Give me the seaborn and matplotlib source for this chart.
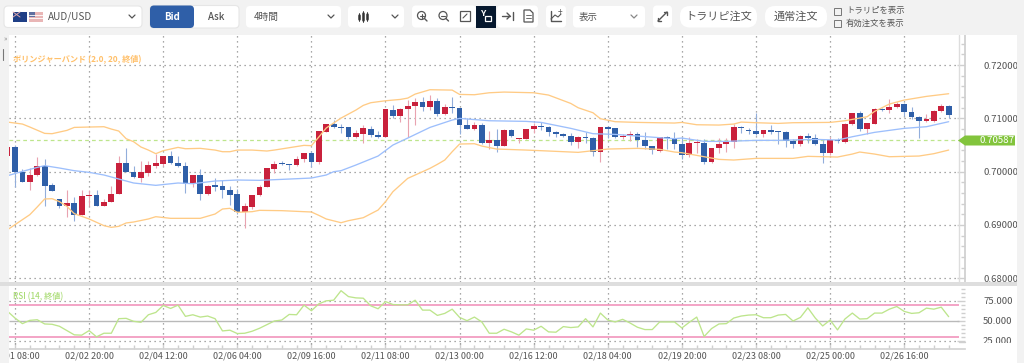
import matplotlib
matplotlib.use('Agg')
import matplotlib.pyplot as plt
import numpy as np
import pandas as pd
import seaborn as sns
from matplotlib.patches import FancyBboxPatch, Rectangle, Circle, Polygon

sns.set_theme(style='white')
plt.rcParams['font.family'] = ['Noto Sans CJK JP', 'DejaVu Sans']

# === DATA ===
# candles start one bar before the first grid line, prices are in 1/100000
candle_open = [70288,
    70462, 69994, 69806, 69931, 70100, 69744, 69494, 69350, 69419, 69188,
    69538, 69556, 69363, 69438, 69581, 70169, 69994, 69888, 69975, 70113,
    70150, 70300, 70169, 70106, 69775, 69938, 69575, 69744, 69725, 69663,
    69575, 69238, 69338, 69556, 69713, 70056, 70163, 70144, 70119, 70238,
    70344, 70175, 70750, 70900, 70844, 70838, 70644, 70713, 70806, 70681,
    70644, 71156, 71044, 71169, 71231, 71313, 71219, 71331, 71081, 71219,
    71200, 70875, 70806, 70875, 70544, 70588, 70488, 70775, 70613, 70613,
    70800, 70850, 70838, 70750, 70706, 70675, 70550, 70644, 70625, 70363,
    70844, 70813, 70644, 70688, 70706, 70594, 70475, 70394, 70650, 70625,
    70513, 70313, 70544, 70544, 70181, 70438, 70513, 70563, 70844, 70781,
    70763, 70706, 70775, 70763, 70750, 70581, 70519, 70675, 70638, 70519,
    70344, 70594, 70550, 70888, 71094, 70794, 70894, 71175, 71156, 71206,
    71275, 71125, 71019, 70944, 70956, 71131, 71231]
candle_close = [70462,
    69994, 69806, 69931, 70100, 69738, 69631, 69350, 69419, 69181, 69538,
    69569, 69363, 69438, 69588, 70163, 69994, 69894, 69988, 70125, 70156,
    70300, 70163, 70100, 69763, 69931, 69581, 69738, 69719, 69663, 69569,
    69238, 69350, 69563, 69713, 70069, 70150, 70138, 70119, 70244, 70344,
    70175, 70756, 70900, 70844, 70825, 70644, 70719, 70813, 70681, 70644,
    71169, 71044, 71181, 71231, 71313, 71219, 71331, 71081, 71213, 71188,
    70875, 70806, 70875, 70544, 70594, 70488, 70781, 70675, 70625, 70800,
    70856, 70831, 70750, 70706, 70675, 70550, 70650, 70625, 70363, 70844,
    70800, 70650, 70675, 70706, 70594, 70475, 70406, 70650, 70625, 70513,
    70313, 70531, 70550, 70181, 70438, 70513, 70563, 70844, 70825, 70763,
    70706, 70781, 70750, 70750, 70581, 70519, 70675, 70638, 70513, 70344,
    70594, 70569, 70894, 71094, 70794, 70906, 71169, 71156, 71206, 71275,
    71125, 71019, 70944, 70981, 71144, 71231, 71063]
candle_high = [70500,
    70506, 70050, 70069, 70275, 70238, 69788, 69494, 69662, 69525, 69650,
    69662, 69650, 69488, 69738, 70288, 70444, 70113, 70194, 70206, 70338,
    70300, 70381, 70300, 70188, 69944, 70050, 69756, 69881, 69850, 69738,
    69675, 69413, 69569, 69756, 70069, 70200, 70194, 70150, 70300, 70350,
    70381, 70756, 70900, 70963, 70894, 70838, 70781, 70875, 70856, 70769,
    71169, 71250, 71194, 71344, 71375, 71394, 71444, 71375, 71269, 71394,
    71200, 71000, 70938, 70906, 70763, 70794, 70794, 70794, 70625, 70800,
    70919, 70938, 70850, 70763, 70731, 70719, 70669, 70750, 70644, 70844,
    70856, 70825, 70706, 70769, 70750, 70738, 70481, 70656, 70669, 70738,
    70656, 70644, 70606, 70606, 70450, 70625, 70625, 70894, 70856, 70825,
    71094, 70781, 70875, 70763, 70769, 70606, 70688, 70719, 70706, 70594,
    70644, 70625, 70919, 71094, 71144, 70919, 71188, 71188, 71356, 71300,
    71281, 71219, 71044, 71081, 71156, 71269, 71250]
candle_low = [70288,
    69712, 69806, 69662, 69925, 69350, 69631, 69319, 69150, 69069, 69188,
    69350, 69350, 69350, 69425, 69581, 69994, 69881, 69800, 69925, 70069,
    70113, 70150, 70088, 69600, 69713, 69475, 69556, 69631, 69506, 69381,
    69213, 68944, 69306, 69538, 69706, 69975, 70119, 70025, 70113, 70175,
    70081, 70150, 70744, 70825, 70731, 70606, 70625, 70531, 70656, 70638,
    70644, 71000, 70938, 70644, 70875, 71144, 71156, 71044, 71063, 71094,
    70706, 70800, 70781, 70519, 70419, 70375, 70481, 70656, 70531, 70606,
    70719, 70781, 70669, 70644, 70656, 70500, 70450, 70531, 70294, 70188,
    70625, 70625, 70613, 70575, 70469, 70419, 70331, 70363, 70425, 70419,
    70231, 70269, 70344, 70138, 70169, 70356, 70375, 70438, 70731, 70700,
    70688, 70644, 70706, 70519, 70469, 70438, 70481, 70544, 70500, 70169,
    70319, 70544, 70544, 70875, 70769, 70706, 70888, 71144, 71106, 71188,
    71044, 70981, 70638, 70931, 70931, 71125, 71000]

upper_idx = [-1, 1, 2, 4, 5, 6, 7, 8, 10, 12, 13, 14, 15, 16, 17, 18, 19, 20, 22, 23, 25, 27, 28, 29, 30, 32,
             34, 35, 37, 39, 40, 41, 42, 43, 44, 45, 46, 47, 48, 50, 52, 53, 54, 56, 59, 60, 62, 64, 66, 70,
             72, 75, 76, 78, 79, 81, 84, 89, 90, 92, 95, 97, 98, 100, 103, 105, 110, 112, 115, 116, 118, 120, 123, 126]
upper_val = [70931, 70894, 70838, 70719, 70713, 70744, 70775, 70831, 70838, 70844, 70800, 70763, 70619, 70563,
             70463, 70406, 70338, 70394, 70456, 70431, 70438, 70406, 70375, 70375, 70406, 70406, 70388, 70406,
             70450, 70494, 70488, 70650, 70819, 70913, 71006, 71081, 71156, 71244, 71294, 71331, 71356, 71381,
             71456, 71538, 71531, 71450, 71444, 71481, 71494, 71481, 71438, 71281, 71200, 71106, 70994, 70938,
             70925, 70913, 70925, 70881, 70875, 70894, 70931, 70919, 70906, 70919, 70925, 70956, 71031, 71131,
             71269, 71344, 71413, 71463]
mid_idx = [-1, 1, 3, 4, 6, 8, 10, 12, 14, 16, 19, 22, 24, 27, 30, 33, 36, 40, 42, 43, 44, 46, 49, 51, 53, 56, 59,
           60, 64, 69, 71, 75, 78, 81, 87, 89, 90, 93, 96, 100, 103, 108, 111, 113, 116, 120, 123, 126]
mid_val = [69925, 70006, 70081, 70113, 70069, 70019, 69988, 69938, 69863, 69788, 69744, 69788, 69775, 69825,
           69844, 69838, 69856, 69881, 69938, 70000, 70019, 70125, 70294, 70500, 70631, 70831, 70969, 71000,
           70956, 70944, 70925, 70813, 70713, 70700, 70638, 70619, 70631, 70569, 70569, 70588, 70588, 70606,
           70594, 70656, 70738, 70813, 70844, 70938]
lower_idx = [-1, 1, 2, 3, 4, 5, 6, 7, 8, 10, 12, 13, 14, 15, 16, 18, 19, 21, 25, 27, 28, 29, 30, 32, 33, 36, 39,
             40, 41, 42, 44, 45, 47, 49, 50, 51, 52, 53, 55, 56, 57, 58, 59, 60, 62, 63, 65, 69, 72, 76, 78, 80,
             84, 87, 89, 90, 93, 95, 97, 100, 105, 107, 111, 113, 114, 116, 118, 122, 124, 126]
lower_val = [68913, 69100, 69194, 69338, 69488, 69494, 69438, 69350, 69213, 69113, 68988, 68956, 68975, 69038,
             69056, 69113, 69156, 69125, 69125, 69206, 69300, 69313, 69238, 69250, 69275, 69269, 69250, 69244,
             69181, 69113, 69043, 69081, 69137, 69281, 69437, 69625, 69750, 69875, 70000, 70063, 70138, 70219,
             70375, 70519, 70525, 70481, 70425, 70406, 70388, 70363, 70394, 70425, 70438, 70419, 70369, 70356,
             70281, 70231, 70219, 70250, 70250, 70288, 70275, 70331, 70369, 70331, 70281, 70294, 70338, 70406]

rsi_val = [62.0,
    53.7, 46.7, 50.8, 51.6, 46.3, 45.9, 43.4, 38.0, 32.7, 32.3,
    38.0, 30.2, 34.7, 34.7, 52.9, 53.3, 49.6, 48.4, 57.8, 60.7,
    69.4, 65.7, 69.8, 55.8, 57.8, 54.9, 56.2, 52.9, 37.6, 38.5,
    34.3, 34.7, 37.2, 40.9, 45.5, 50.0, 51.2, 58.2, 57.8, 69.8,
    62.8, 71.4, 75.2, 76.0, 87.9, 80.5, 78.9, 78.5, 69.0, 65.3,
    74.3, 70.6, 70.2, 70.2, 76.0, 63.6, 63.6, 57.0, 59.5, 64.8,
    54.5, 50.4, 54.9, 48.8, 34.7, 34.7, 39.7, 36.4, 32.3, 40.1,
    38.5, 43.4, 36.4, 36.0, 43.0, 41.8, 42.6, 52.9, 42.6, 59.9,
    51.2, 48.8, 52.1, 47.5, 42.2, 39.3, 39.3, 48.8, 48.8, 48.8,
    41.3, 48.4, 54.9, 30.6, 40.5, 46.3, 46.7, 53.7, 56.2, 57.4,
    57.8, 54.1, 54.1, 57.4, 58.2, 50.0, 54.5, 66.5, 53.7, 43.8,
    51.2, 38.9, 52.5, 59.9, 52.5, 52.9, 59.9, 59.9, 64.8, 68.1,
    62.0, 59.5, 60.3, 66.1, 64.8, 67.3, 55.4]

x_labels = ['02/01 08:00', '02/02 20:00', '02/04 12:00', '02/06 04:00', '02/09 16:00', '02/11 08:00', '02/13 00:00',
            '02/16 12:00', '02/18 04:00', '02/19 20:00', '02/23 08:00', '02/25 00:00', '02/26 16:00']
price_ticks = [0.68, 0.69, 0.70, 0.71, 0.72]
rsi_ticks = [25, 50, 75]
last_price = 0.70587

RED = '#c9213c'
BLUE = '#2f5fa8'
ORANGE = '#ffcb85'
SKY = '#9dbffc'
LIME = '#bde58c'
GRID = '#8c8c8c'
TEXT = '#555555'
PAD = '#f2f2f2'

df = pd.DataFrame({'idx': np.arange(-1, 127), 'open': candle_open, 'high': candle_high,
                   'low': candle_low, 'close': candle_close, 'rsi': rsi_val})
for col in ['open', 'high', 'low', 'close']:
    df[col] = df[col] / 100000
df['up'] = df['close'] >= df['open']

# === LAYOUT (pixel helpers) ===
W, H = 1024, 363
fig = plt.figure(figsize=(W / 100, H / 100), dpi=100, facecolor='white')

def px_axes(x0, y0, x1, y1):
    return fig.add_axes([x0 / W, 1 - y1 / H, (x1 - x0) / W, (y1 - y0) / H])

ax = px_axes(9, 35, 965, 282)
ax_rsi = px_axes(9, 286, 965, 349)
x_left, x_right = (9 - 15) / 7.41, (965 - 15) / 7.41
x_grid_end = (959 - 15) / 7.41
ticks10 = np.arange(0, 130, 10)

# === PRICE PANEL ===
ax.set_xlim(x_left, x_right)
ax.set_ylim(0.7 + (171.7 - 282) / 5330, 0.7 + (171.7 - 35) / 5330)
ax.vlines(ticks10, *ax.get_ylim(), color=GRID, lw=0.9, ls=(0, (1, 3)), zorder=1)
ax.hlines(price_ticks, x_left, x_grid_end, color=GRID, lw=0.9, ls=(0, (1, 3)), zorder=1)
ax.hlines(last_price, x_left, x_grid_end, color=LIME, lw=0.9, ls=(0, (3, 2.5)), zorder=2)

for up, color, wick in [(True, RED, '#e9a3b0'), (False, BLUE, '#92aedb')]:
    part = df[df['up'] == up]
    ax.vlines(part['idx'], part['low'], part['high'], color=wick, lw=0.8, zorder=3)
    ax.bar(part['idx'], (part['close'] - part['open']).abs().clip(lower=0.00012),
           bottom=part[['open', 'close']].min(axis=1), width=0.78, color=color, lw=0, zorder=4)

bands = [(upper_idx, upper_val, ORANGE), (mid_idx, mid_val, SKY), (lower_idx, lower_val, ORANGE)]
for band_idx, band_val, color in bands:
    sns.lineplot(x=band_idx, y=np.array(band_val) / 100000, ax=ax, color=color, lw=0.95, zorder=5,
                 estimator=None, legend=False)

ax.axvline(x_grid_end, color='#dddddd', lw=1)
ax.set_yticks(price_ticks, [f'{t:.5f}' for t in price_ticks])
ax.set_yticks(np.arange(0.68, 0.7241, 0.002), minor=True)
ax.yaxis.tick_right()
ax.tick_params(axis='y', which='major', direction='in', length=6, width=1, color='#cfcfcf',
               labelsize=6.9, labelcolor=TEXT, pad=13, right=True)
ax.tick_params(axis='y', which='minor', direction='in', length=3, width=1, color='#cfcfcf', right=True)
ax.set_xticks([])
ax.set_xlabel('')
ax.set_ylabel('')
for name, spine in ax.spines.items():
    spine.set_visible(name == 'right')
    spine.set_color('#cfcfcf')
ax.annotate('ボリンジャーバンド (2.0, 20, 終値)', xy=(13 / W, 1 - 60 / H), xycoords='figure fraction',
            color='#ffc06a', fontsize=5.9, va='center', fontweight='bold', zorder=6)

# === RSI PANEL ===
ax_rsi.set_xlim(x_left, x_right)
ax_rsi.set_ylim(15, 93.75)
ax_rsi.vlines(ticks10, 21, 93.75, color=GRID, lw=0.9, ls=(0, (1, 3)), zorder=1)
ax_rsi.hlines(rsi_ticks[::2], x_left, x_grid_end, color=GRID, lw=0.9, ls=(0, (1, 3)), zorder=1)
ax_rsi.hlines(50, x_left, x_grid_end, color='#b9b9b9', lw=1, zorder=2)
ax_rsi.hlines([30, 70], x_left, x_grid_end, color='#f08cb6', lw=1.1, zorder=3)
sns.lineplot(data=df, x='idx', y='rsi', ax=ax_rsi, color=LIME, lw=0.95, zorder=4, estimator=None, legend=False)

ax_rsi.set_yticks(rsi_ticks, [f'{t:.3f}' for t in rsi_ticks])
ax_rsi.set_yticks(np.arange(25, 95, 5), minor=True)
ax_rsi.yaxis.tick_right()
ax_rsi.tick_params(axis='y', which='major', direction='in', length=6, width=1, color='#cfcfcf',
                   labelsize=6.9, labelcolor=TEXT, pad=13, right=True)
ax_rsi.tick_params(axis='y', which='minor', direction='in', length=3, width=1, color='#cfcfcf', right=True)
ax_rsi.set_xticks(ticks10, x_labels)
ax_rsi.set_xticks(np.arange(0, 127, 2), minor=True)
ax_rsi.tick_params(axis='x', which='major', direction='in', length=4, width=1, color='#cfcfcf',
                   labelsize=6.5, labelcolor=TEXT, pad=2, bottom=True)
ax_rsi.tick_params(axis='x', which='minor', direction='in', length=3, width=1, color='#cfcfcf', bottom=True)
ax_rsi.set_xlabel('')
ax_rsi.set_ylabel('')
for name, spine in ax_rsi.spines.items():
    spine.set_visible(name == 'bottom')
    spine.set_color('#d4d4d4')
ax_rsi.annotate('RSI (14, 終値)', xy=(13 / W, 1 - 297 / H), xycoords='figure fraction',
                color='#a9dc74', fontsize=5.9, va='center', fontweight='medium', zorder=6)

# === PAGE CHROME (toolbar, side strips) ===
ui = fig.add_axes([0, 0, 1, 1], zorder=10)
ui.set_xlim(0, W)
ui.set_ylim(H, 0)
ui.axis('off')

def rect(x0, y0, x1, y1, color, z=1):
    ui.add_patch(Rectangle((x0, y0), x1 - x0, y1 - y0, fc=color, ec='none', zorder=z))

def button(x0, y0, x1, y1, color='white', r=4, edge='none'):
    ui.add_patch(FancyBboxPatch((x0 + r, y0 + r), x1 - x0 - 2 * r, y1 - y0 - 2 * r,
                                boxstyle=f'round,pad={r}', fc=color, ec=edge, lw=0.8, zorder=2))

def label(x, y, s, size=6.8, color=TEXT, ha='center', weight='normal'):
    ui.text(x, y, s, fontsize=size, color=color, ha=ha, va='center', fontweight=weight, zorder=8)

def chevron(x, y, color='#555555'):
    ui.plot([x - 3, x, x + 3], [y - 1.5, y + 1.5, y - 1.5], color=color, lw=0.9, zorder=5)

def stroke(xs, ys, color='#555555', lw=1):
    ui.plot(xs, ys, color=color, lw=lw, zorder=6, solid_capstyle='round')

rect(0, 0, W, 35, PAD)
rect(0, 35, 9, H, PAD)
rect(1017, 35, W, H, PAD)
rect(0, 282, 1017, 285.5, '#dedede', 3)
rect(967, 343, 1017, 353, 'white', 3)
stroke([959, 965], [342, 342], '#cfcfcf', 1)
label(5, 39, '»', 5, '#888888')
stroke([2.5, 2.5], [49, 60], '#777777', 0.8)

button(4, 6, 142, 27.5, edge='#e6e6e6')
rect(13, 12, 27, 22, '#1f3f86', 3)
stroke([13, 20], [12, 17], '#e0a8ac', 0.7)
stroke([13, 20], [17, 12], '#e0a8ac', 0.7)
rect(29, 12, 43, 22, '#e9b6b6', 3)
stroke([29, 43], [15, 15], 'white', 0.6)
stroke([29, 43], [18, 18], 'white', 0.6)
rect(29, 12, 35, 17, '#5f6f9f', 4)
label(48, 17, 'AUD/USD', 7.2, ha='left')
chevron(132, 16.5)

button(150, 5.5, 239, 28, edge='#e6e6e6')
button(150, 5.5, 194, 28, BLUE)
label(172, 16.5, 'Bid', 7, 'white', weight='bold')
label(216, 16.5, 'Ask', 7, weight='medium')

button(246, 6, 341, 27.5)
label(254, 17, '4時間', 7, ha='left')
chevron(331, 16.5)
button(348, 6, 404, 27.5)
for cx, y0, y1 in zip([359, 363, 367], [14, 12, 13], [20, 21, 20]):
    stroke([cx, cx], [y0 - 1, y1 + 1], '#444444', 0.7)
    stroke([cx, cx], [y0 + 1, y1 - 1], '#333333', 1.8)
chevron(395, 16.5)

button(412, 5.5, 476, 27.5)
button(497, 5.5, 538, 27.5)
ui.add_patch(Circle((421.5, 15.5), 4, fc='none', ec='#555555', lw=0.9, zorder=6))
stroke([424.5, 427], [18.5, 21])
stroke([419.5, 423.5], [15.5, 15.5], lw=0.8)
stroke([421.5, 421.5], [13.5, 17.5], lw=0.8)
ui.add_patch(Circle((443, 15.5), 4, fc='none', ec='#555555', lw=0.9, zorder=6))
stroke([446, 448.5], [18.5, 21])
stroke([441, 445], [15.5, 15.5], lw=0.8)
ui.add_patch(Rectangle((460, 11), 10, 10, fc='none', ec='#555555', lw=0.9, zorder=6))
stroke([463, 467], [18, 14], lw=0.8)
rect(476, 5.5, 496, 28, '#06182e', 4)
label(483, 14, 'Y', 6.5, 'white', weight='bold')
ui.add_patch(Rectangle((485, 16), 6, 5, fc='none', ec='white', lw=0.9, zorder=6))
stroke([502, 510], [16, 16])
stroke([507, 510, 507], [13, 16, 19])
stroke([513, 513], [12, 20])
ui.add_patch(Polygon([[524, 10], [530, 10], [533, 13], [533, 22], [524, 22]], fc='none', ec='#555555', lw=0.9, zorder=6))
stroke([526, 531], [15, 15], lw=0.6)
stroke([526, 531], [18, 18], lw=0.6)
button(546, 5.5, 566, 27.5)
stroke([551, 551, 561], [11, 21, 21])
stroke([551, 555, 558, 561], [19, 15, 17, 14], lw=0.8)
label(560, 12, '+', 6, '#555555')
button(573, 6, 645, 27.5)
label(579, 17, '表示', 6.8, ha='left')
chevron(634, 16.5, '#888888')
button(653, 5.5, 672, 27.5)
stroke([658, 667], [21, 12])
stroke([664, 667, 667], [11.5, 11.5, 14.5])
stroke([658, 658, 661], [18, 21, 21])
button(680, 6, 757, 27.5, r=10)
label(719, 17, 'トラリピ注文', 8)
button(765, 6, 827, 27.5, r=10)
label(796, 17, '通常注文', 8)
for y in (11, 23):
    ui.add_patch(Rectangle((834, y - 3.5), 7, 7, fc='none', ec='#777777', lw=0.7, zorder=5))
label(846, 11, 'トラリピを表示', 6, ha='left')
label(846, 23, '有効注文を表示', 6, ha='left')

# current price tag
ui.add_patch(Polygon([[958, 140.5], [965, 135.5], [1015, 135.5], [1015, 145.5], [965, 145.5]],
                     fc='#82c43c', ec='none', zorder=6))
label(997, 140.5, f'{last_price:.5f}', 6.9, 'white')

fig.savefig('out.png', dpi=100, facecolor=fig.get_facecolor())
